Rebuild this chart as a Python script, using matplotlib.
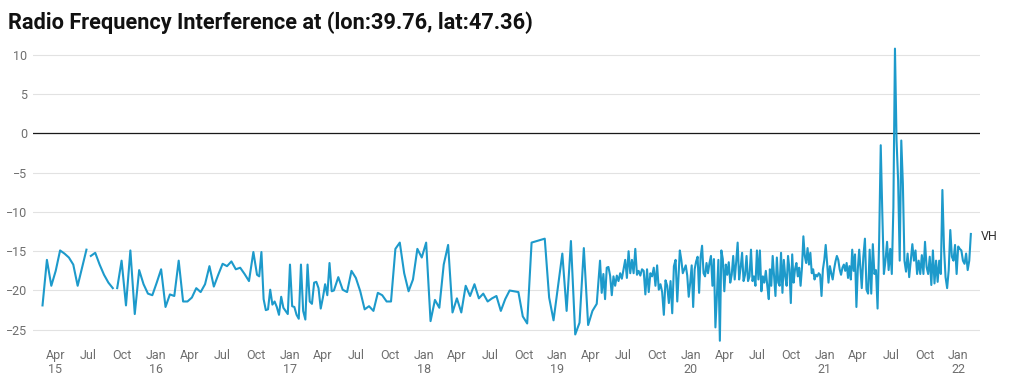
import matplotlib
matplotlib.use('Agg')
import matplotlib.pyplot as plt
import numpy as np
import pandas as pd

plt.rcParams['font.family'] = ['Roboto', 'DejaVu Sans']

BLUE = '#1d9acb'
GRID = '#e2e2e2'
TXT = '#6e6e6e'

# VH RFI values, split into acquisition runs (evenly spaced in each run)
a1_dates = ('2015-02-25', '2015-06-25')
a1_vals = [-21.9, -16.1, -19.4, -17.5, -14.9, -15.3, -15.8, -16.7, -19.4, -17.1, -14.8]

a2_dates = ('2015-07-07', '2015-09-05')
a2_vals = [-15.6, -15.2, -16.7, -18.0, -19.0, -19.7]

a3_dates = ('2015-09-17', '2016-09-23')
a3_vals = [-19.7, -16.2, -21.9, -14.9, -23.0, -17.4, -19.2, -20.4, -20.6, -19.0, -17.3,
           -22.1, -20.5, -20.7, -16.2, -21.4, -21.4, -20.9, -19.7, -20.2, -19.2, -16.9,
           -19.5, -18.0, -16.6, -16.9, -16.3, -17.3, -17.1, -17.9, -18.8, -15.1]

b_dates = ('2016-10-03', '2017-05-01')
b_vals = [-18.0, -18.2, -15.1, -21.1, -22.5, -22.4, -19.9, -21.8, -21.4, -22.1, -23.1, -20.8,
          -22.2, -22.6, -23.0, -16.7, -22.0, -22.1, -23.1, -23.6, -16.7, -22.6, -23.7, -16.7,
          -21.4, -21.7, -19.0, -18.9, -19.7, -22.3, -20.9, -19.2, -20.6, -16.5, -20.1, -20.0]

c_dates = ('2017-05-13', '2018-10-23')
c_vals = [-18.3, -19.9, -20.2, -17.5, -18.4, -20.1, -22.4, -22.0, -22.6, -20.3, -20.6, -21.4,
          -21.4, -14.7, -13.9, -17.8, -20.1, -18.6, -14.7, -15.8, -13.9, -23.9, -21.2, -22.2,
          -16.7, -14.2, -22.8, -21.0, -22.8, -19.4, -20.7, -19.2, -21.0, -20.4, -21.4, -21.0,
          -20.7, -22.6, -21.1, -20.0, -20.1, -20.2, -23.3, -24.2, -13.9]

d1_dates = ('2018-11-28', '2018-12-22')
d1_vals = [-13.4, -20.9, -23.8]

d2_dates = ('2019-01-15', '2019-04-19')
d2_vals = [-15.3, -22.6, -13.7, -25.6, -24.1, -14.6, -24.4, -22.6, -21.7]

e1_dates = ('2019-04-28', '2019-11-25')
e1_vals = [-16.2, -20.3, -17.9, -21.1, -17.1, -17.0, -18.1, -20.6, -18.2, -19.4, -18.1, -18.8,
           -17.8, -18.5, -17.3, -16.1, -18.4, -15.0, -17.8, -16.1, -17.8, -14.7, -18.0, -17.5,
           -18.1, -17.3, -17.5, -20.5, -17.3, -20.2, -17.8, -18.2, -17.1, -19.4, -16.8, -19.9,
           -19.2, -20.2, -23.1, -18.7, -19.4, -21.6, -18.8, -22.9, -16.9, -16.1, -21.4]

e2_dates = ('2019-12-02', '2020-08-01')
e2_vals = [-14.9, -16.1, -17.8, -17.3, -16.8, -18.1, -20.8, -19.0, -16.8, -22.1, -17.3, -16.3,
           -15.7, -20.3, -15.8, -14.3, -17.8, -18.2, -16.5, -17.8, -16.5, -15.6, -19.4, -16.0,
           -24.7, -20.7, -16.1, -26.4, -14.9, -16.0, -20.1, -16.7, -18.0, -16.4, -19.0, -18.0,
           -15.6, -18.6, -16.4, -13.9, -18.6, -17.1, -15.2, -18.8, -18.0, -15.6, -18.8, -18.2,
           -14.8, -18.8, -18.2, -19.4, -14.9, -18.6, -14.9, -20.1, -18.2, -19.0, -17.5, -19.4,
           -21.1]

e3_dates = ('2020-08-04', '2021-04-05')
e3_vals = [-17.3, -19.4, -15.6, -18.2, -20.7, -15.8, -19.0, -19.4, -15.2, -20.3, -16.1, -18.2,
           -19.4, -15.6, -17.3, -21.6, -15.4, -19.0, -17.3, -16.5, -18.2, -17.1, -19.4, -17.1,
           -13.1, -15.6, -16.5, -14.6, -16.7, -15.2, -17.8, -17.3, -18.6, -18.0, -18.2, -17.8,
           -18.0, -20.7, -17.3, -16.1, -14.2, -16.5, -19.0, -16.9, -17.8, -18.6, -17.3, -16.3,
           -15.6, -16.1, -17.3, -18.0, -17.1, -16.7, -17.5, -16.5, -18.4, -16.9, -18.6, -14.8,
           -17.5, -15.4, -22.1, -17.3, -14.8]

e4_dates = ('2021-04-12', '2022-02-04')
e4_vals = [-19.7, -15.7, -13.4, -19.9, -20.4, -14.8, -20.4, -14.1, -17.9, -17.4, -22.3, -13.6,
           -1.5, -10.2, -17.9, -16.2, -13.8, -17.4, -14.7, -17.9, -9.4, 10.8, -0.9, -6.0,
           -16.2, -0.9, -6.4, -16.2, -17.6, -15.3, -18.3, -16.2, -14.1, -16.2, -14.9, -17.9,
           -16.2, -17.9, -15.5, -17.9, -13.8, -17.0, -17.9, -15.7, -19.3, -14.9, -19.1, -16.2,
           -18.9, -16.2, -17.9, -7.2, -14.5, -18.3, -19.7, -17.4, -12.3, -15.7, -16.2, -14.2,
           -17.9, -14.4, -14.7, -14.9, -16.2, -16.6, -15.3, -17.4, -16.2, -12.8]

# (dates, values, break in the line before this run)
runs = [(a1_dates, a1_vals, False), (a2_dates, a2_vals, True), (a3_dates, a3_vals, True),
        (b_dates, b_vals, False), (c_dates, c_vals, False), (d1_dates, d1_vals, False),
        (d2_dates, d2_vals, False), (e1_dates, e1_vals, False), (e2_dates, e2_vals, False),
        (e3_dates, e3_vals, False), (e4_dates, e4_vals, False)]

parts = []
for (start, end), vals, gap in runs:
    idx = pd.date_range(start, end, periods=len(vals))
    if gap:
        parts.append(pd.Series([np.nan], index=[idx[0] - pd.Timedelta(days=2)]))
    parts.append(pd.Series(vals, index=idx))
vh = pd.concat(parts)

fig = plt.figure(figsize=(10.09, 3.83), dpi=100)
ax = fig.add_axes([33 / 1009, 1 - 343.5 / 383, 947 / 1009, (343.5 - 39.2) / 383])

ax.plot(vh.index, vh.values, color=BLUE, lw=1.5, solid_joinstyle='round', zorder=3)
ax.axhline(0, color='#1a1a1a', lw=0.9, zorder=2)

ax.set_xlim(pd.Timestamp('2015-01-30'), pd.Timestamp('2022-03-01'))
ax.set_ylim(-26.75, 12)

yt = [-25, -20, -15, -10, -5, 0, 5, 10]
ax.set_yticks(yt)
ax.yaxis.grid(True, color=GRID, lw=0.8)
ax.set_axisbelow(True)

ticks = pd.date_range('2015-04-01', '2022-01-01', freq='QS')
labels = []
for i, t in enumerate(ticks):
    lab = t.strftime('%b')
    if i == 0 or t.month == 1:
        lab += '\n' + t.strftime('%y')
    labels.append(lab)
ax.set_xticks(ticks)
ax.set_xticklabels(labels, linespacing=1.1)

ax.tick_params(axis='both', length=0, labelsize=9, colors=TXT)
ax.tick_params(axis='y', pad=4)
ax.tick_params(axis='x', pad=4)
for s in ax.spines.values():
    s.set_visible(False)

ax.annotate('VH', xy=(vh.index[-1], vh.values[-1]), xytext=(7, -2), textcoords='offset points',
            va='center', ha='left', fontsize=9, color='#333333')

fig.text(8 / 1009, 1 - 29 / 383, 'Radio Frequency Interference at (lon:39.76, lat:47.36)',
         fontsize=15.7, fontweight='bold', color='#111111', va='baseline')

fig.savefig('out.png', dpi=100)
